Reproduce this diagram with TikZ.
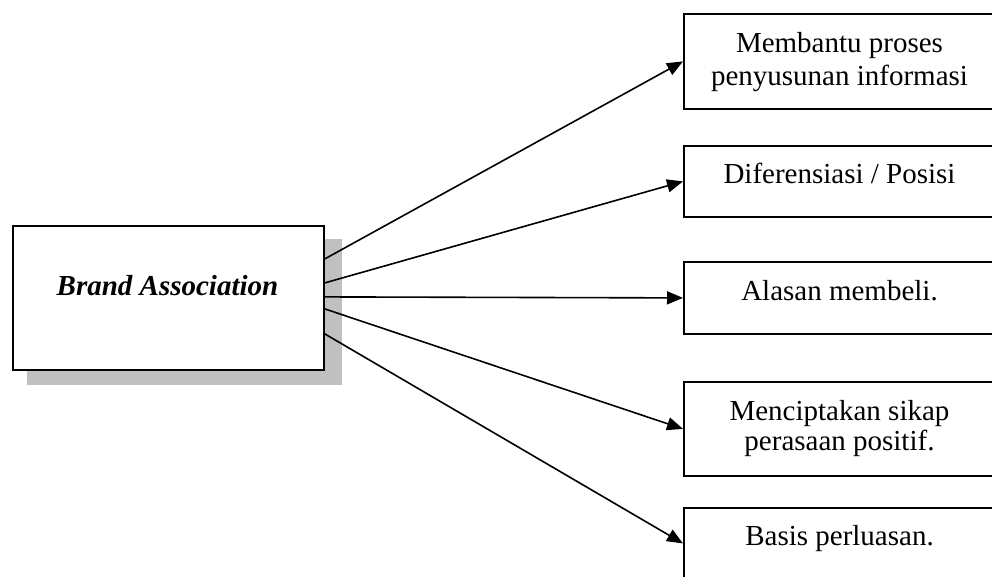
\documentclass[tikz,border=0pt]{standalone}
\usepackage{fontspec}
\setmainfont{Liberation Serif}
\usetikzlibrary{arrows.meta}
\definecolor{shadowgray}{RGB}{192,192,192}
\begin{document}
\begin{tikzpicture}[x=1pt,y=-1pt,
  box/.style={draw,line width=1.8pt,fill=white,inner sep=0pt,anchor=north west},
  lbl/.style={font=\fontsize{29}{33}\selectfont,inner sep=0pt,anchor=base,align=center},
  link/.style={line width=1.6pt,-{Triangle[length=16pt,width=13pt]}}]
\useasboundingbox (0,0) rectangle (992,576);
\clip (0,0) rectangle (992,576);

% source box with its drop shadow
\fill[shadowgray] (27,239) rectangle (342,385);
\node[box,minimum width=311pt,minimum height=144pt] (A) at (12,225) {};
\node[lbl,font=\fontsize{29}{33}\selectfont\bfseries\itshape] (Atext) at (167.5,295) {Brand Association};

% target boxes
\node[box,minimum width=313pt,minimum height=95pt] (B1) at (683,13) {};
\node[box,minimum width=313pt,minimum height=71pt] (B2) at (683,145) {};
\node[box,minimum width=313pt,minimum height=72pt] (B3) at (683,261) {};
\node[box,minimum width=313pt,minimum height=94pt] (B4) at (683,381) {};
\node[box,minimum width=313pt,minimum height=71pt] (B5) at (683,507) {};

% labels (a multi-line label is anchored at the baseline of its last line)
\node[lbl] (T1) at (839.5,85) {Membantu proses\\penyusunan informasi};
\node[lbl] (T2) at (839.5,183) {Diferensiasi / Posisi};
\node[lbl] (T3) at (839.5,300) {Alasan membeli.};
\node[lbl,font=\fontsize{29}{30}\selectfont] (T4) at (839.5,450) {Menciptakan sikap\\perasaan positif.};
\node[lbl] (T5) at (839.5,545) {Basis perluasan.};

% connectors
\draw[link] ([yshift=39pt]A.east) -- (B1.west);
\draw[link] ([yshift=15pt]A.east) -- (B2.west);
\draw[link] ([yshift=1pt]A.east) -- (B3.west);
\draw[link] ([yshift=-11pt]A.east) -- (B4.west);
\draw[link] ([yshift=-36pt]A.east) -- (B5.west);
\end{tikzpicture}
\end{document}
